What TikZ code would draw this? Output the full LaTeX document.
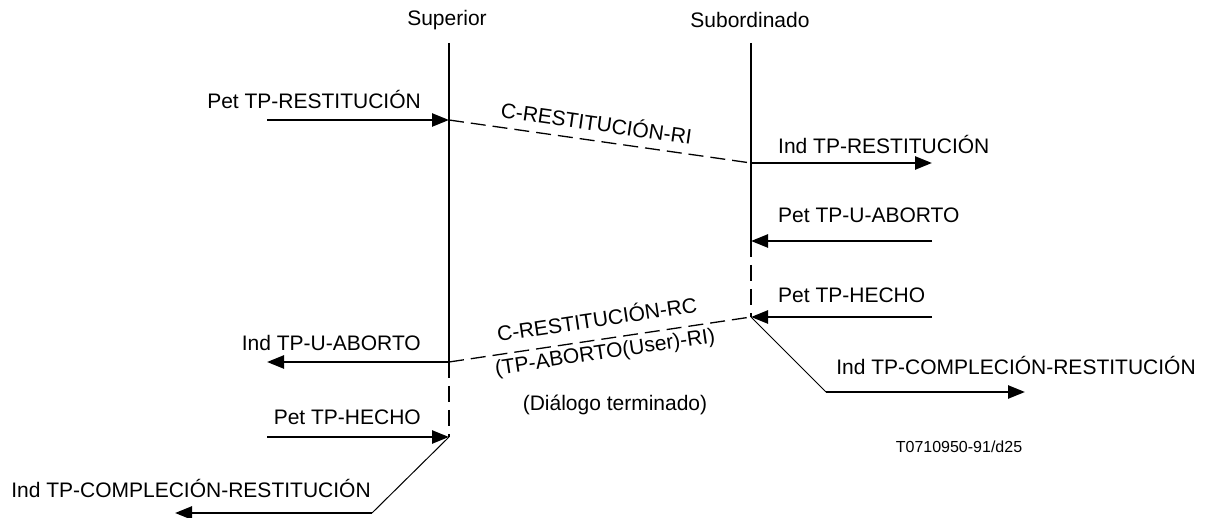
\documentclass[tikz,border=0pt]{standalone}
\usepackage{fontspec}
\setmainfont{Liberation Sans}
\usetikzlibrary{arrows.meta}
\begin{document}
\begin{tikzpicture}[x=1pt,y=-1pt,
  lbl/.style={inner sep=0pt,font=\fontsize{21}{25}\selectfont},
  life/.style={line width=2.2pt},
  lifedash/.style={line width=2.2pt,dash pattern=on 16pt off 8pt},
  msg/.style={line width=2.5pt,-{Triangle[length=17pt,width=13pt]}},
  pdu/.style={line width=1.3pt,dash pattern=on 15pt off 7pt},
  thin/.style={line width=1pt}]
\useasboundingbox (0,0) rectangle (1211,518);

% lifeline heads
\node[lbl] (sup) at (447,20) {Superior};
\node[lbl] (sub) at (750,20) {Subordinado};

% key points on the lifelines
\coordinate (a0) at (449,43);
\coordinate (a1) at (449,120);
\coordinate (a2) at (449,362);
\coordinate (a3) at (449,437);
\coordinate (b0) at (751,43);
\coordinate (b1) at (751,163);
\coordinate (b2) at (751,241);
\coordinate (b3) at (751,317);

% lifelines
\draw[life] (a0) -- (a2);
\draw[lifedash] (a2) -- (a3);
\draw[life] (b0) -- (b2);
\draw[lifedash] (b2) -- (b3);

% outer ends of the service primitives
\coordinate (l1) at (267,120);
\coordinate (l2) at (267,362);
\coordinate (l3) at (267,437);
\coordinate (lk) at (372,513);
\coordinate (l4) at (175,513);
\coordinate (r1) at (932,163);
\coordinate (r2) at (932,241);
\coordinate (r3) at (932,317);
\coordinate (rk) at (826,392);
\coordinate (r4) at (1025,392);

% primitives at the superior
\node[lbl,anchor=east] (t1) at (421,100) {Pet TP-RESTITUCIÓN};
\draw[msg] (l1) -- (a1);
\node[lbl,anchor=east] (t2) at (421,343) {Ind TP-U-ABORTO};
\draw[msg] (a2) -- (l2);
\node[lbl,anchor=east] (t3) at (421,417) {Pet TP-HECHO};
\draw[msg] (l3) -- (a3);
\node[lbl] (t4) at (191,488) {Ind TP-COMPLECIÓN-RESTITUCIÓN};
\draw[thin] (a3) -- (lk);
\draw[msg] (lk) -- (l4);

% primitives at the subordinate
\node[lbl,anchor=west] (u1) at (778,145) {Ind TP-RESTITUCIÓN};
\draw[msg] (b1) -- (r1);
\node[lbl,anchor=west] (u2) at (778,215) {Pet TP-U-ABORTO};
\draw[msg] (r2) -- (b2);
\node[lbl,anchor=west] (u3) at (778,295) {Pet TP-HECHO};
\draw[msg] (r3) -- (b3);
\node[lbl] (u4) at (1016,365) {Ind TP-COMPLECIÓN-RESTITUCIÓN};
\draw[thin] (b3) -- (rk);
\draw[msg] (rk) -- (r4);

% protocol data units
\draw[pdu] (a1) -- node[lbl,sloped,above=9pt,pos=0.48] (p1) {C-RESTITUCIÓN-RI} (b1);
\draw[pdu] (a2) -- node[lbl,sloped,above=12pt,pos=0.5] (p2) {C-RESTITUCIÓN-RC}
                   node[lbl,sloped,below=4pt,pos=0.51] (p3) {(TP-ABORTO(User)-RI)} (b3);
\node[lbl] (p4) at (615,405) {(Diálogo terminado)};

% figure reference
\node[inner sep=0pt,font=\fontsize{16}{19}\selectfont] (ref) at (959,447) {T0710950-91/d25};
\end{tikzpicture}
\end{document}
